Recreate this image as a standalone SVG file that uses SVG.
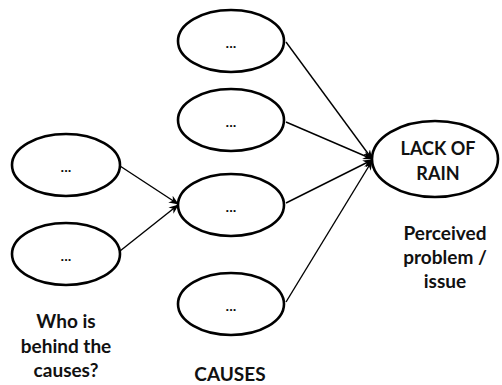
<svg xmlns="http://www.w3.org/2000/svg" width="502" height="385" viewBox="0 0 502 385">
<defs>
<style>
.node{fill:#fff;stroke:#000;stroke-width:2.6}
.edge{stroke:#000;stroke-width:1.4;fill:none;marker-end:url(#ah)}
.dots{font-family:"Liberation Sans",sans-serif;font-weight:bold;font-size:13px;text-anchor:middle;fill:#111}
.lbl{font-family:Lato,"Liberation Sans",sans-serif;font-weight:bold;font-size:19px;text-anchor:middle;fill:#111}
.in{font-size:18px}
</style>
<marker id="ah" viewBox="0 0 10 8" refX="9" refY="4" markerWidth="10" markerHeight="8" markerUnits="userSpaceOnUse" orient="auto">
<path d="M0,0 L10,4 L0,8 L3,4 Z" fill="#000"/>
</marker>
</defs>
<rect width="502" height="385" fill="#fff"/>
<g id="connectors">
<line class="edge" x1="120" y1="166" x2="178" y2="204"/>
<line class="edge" x1="120" y1="251" x2="178" y2="205"/>
<line class="edge" x1="286" y1="42" x2="372" y2="159"/>
<line class="edge" x1="286" y1="122" x2="372" y2="159"/>
<line class="edge" x1="286" y1="203" x2="372" y2="160"/>
<line class="edge" x1="286" y1="302" x2="372" y2="161"/>
</g>
<g id="who1"><ellipse class="node" cx="66" cy="165" rx="54" ry="31"/><text class="dots" x="66" y="172">...</text></g>
<g id="who2"><ellipse class="node" cx="66" cy="254" rx="54" ry="31"/><text class="dots" x="66" y="261">...</text></g>
<g id="cause1"><ellipse class="node" cx="231" cy="41" rx="53" ry="31"/><text class="dots" x="231" y="48">...</text></g>
<g id="cause2"><ellipse class="node" cx="231" cy="120" rx="53" ry="31"/><text class="dots" x="231" y="127">...</text></g>
<g id="cause3"><ellipse class="node" cx="231" cy="205" rx="53" ry="31"/><text class="dots" x="231" y="212">...</text></g>
<g id="cause4"><ellipse class="node" cx="231" cy="304" rx="53" ry="31"/><text class="dots" x="231" y="311">...</text></g>
<g id="problem"><ellipse class="node" cx="435" cy="159" rx="63" ry="38"/>
<text class="lbl in" x="438" y="155">LACK OF</text><text class="lbl in" x="438" y="180">RAIN</text></g>
<g id="labels">
<text class="lbl" x="66" y="328">Who is</text>
<text class="lbl" x="66" y="353">behind the</text>
<text class="lbl" x="66" y="377">causes?</text>
<text class="lbl" x="230" y="381">CAUSES</text>
<text class="lbl" x="445" y="240">Perceived</text>
<text class="lbl" x="445" y="264">problem /</text>
<text class="lbl" x="445" y="288">issue</text>
</g>
</svg>
